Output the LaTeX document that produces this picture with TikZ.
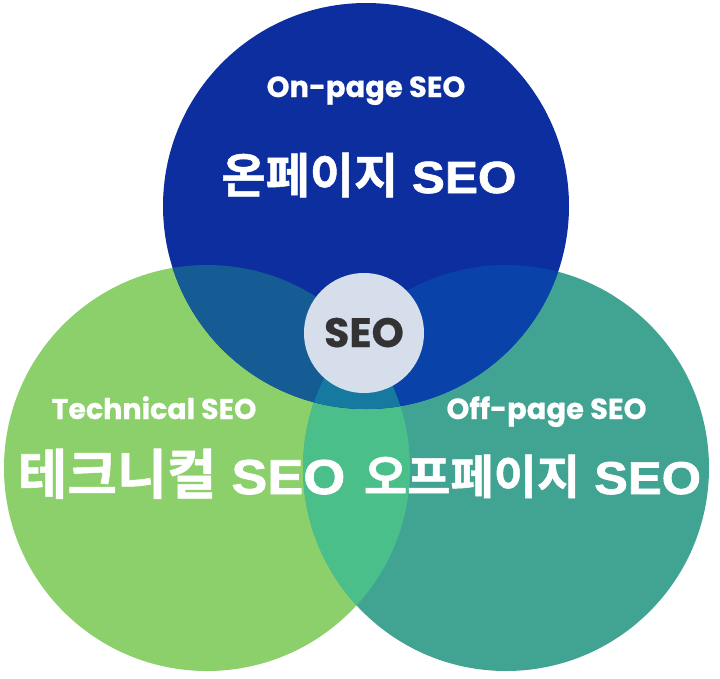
\documentclass[tikz,border=0pt]{standalone}
\usepackage{fontspec}
\newfontfamily\popfont{Poppins}[FakeBold=0.6]
\newfontfamily\krfont{Noto Sans CJK KR Bold}[FakeBold=1]
\newfontfamily\lsfont{Liberation Sans Bold}[FakeStretch=1.1,FakeBold=1.5]
\definecolor{cTop}{HTML}{0D2E9E}
\definecolor{cLeft}{HTML}{8CD06B}
\definecolor{cRight}{HTML}{41A493}
\definecolor{cTL}{HTML}{155C94}
\definecolor{cTR}{HTML}{0942A8}
\definecolor{cLR}{HTML}{4BBF8A}
\definecolor{cAll}{HTML}{1579A0}
\definecolor{cCenter}{HTML}{D6DEEC}
\definecolor{cDark}{HTML}{333333}
\newcommand{\hg}[2]{{\krfont\fontsize{#1}{#1}\selectfont #2}}
\newcommand{\lt}[2]{{\lsfont\fontsize{#1}{#1}\selectfont #2}}
\tikzset{
  entxt/.style={text=white, font=\popfont\bfseries\fontsize{29}{32}\selectfont, inner sep=0pt, anchor=base},
  krtxt/.style={text=white, inner sep=0pt, anchor=base},
  hubtxt/.style={text=cDark, font=\popfont\bfseries\fontsize{41}{44}\selectfont, inner sep=0pt, anchor=base}
}
\begin{document}
\begin{tikzpicture}[x=1pt,y=-1pt]
\useasboundingbox (0,0) rectangle (720,678);
\def\R{203pt}
% base circles
\fill[cLeft] (207,468) circle (\R);
\fill[cRight] (506,468) circle (\R);
\fill[cTop] (366,206) circle (\R);
% pairwise overlaps
\begin{scope}
  \clip (207,468) circle (\R);
  \fill[cLR] (506,468) circle (\R);
  \fill[cTL] (366,206) circle (\R);
\end{scope}
\begin{scope}
  \clip (506,468) circle (\R);
  \fill[cTR] (366,206) circle (\R);
\end{scope}
\begin{scope}
  \clip (207,468) circle (\R);
  \clip (506,468) circle (\R);
  \fill[cAll] (366,206) circle (\R);
\end{scope}
% hub
\node[circle, fill=cCenter, minimum size=120pt, inner sep=0pt] (hub) at (364,333) {};
\node[hubtxt] (hubl) at (364,347) {SEO};
% labels
\node[entxt] (onen) at (366,97) {On-page SEO};
\node[krtxt] (onkr) at (369,193) {\hg{48}{온페이지}\lt{45}{ SEO}};
\node[entxt, font=\popfont\bfseries\fontsize{28.5}{32}\selectfont] (techen) at (154,419) {Technical SEO};
\node[krtxt] (techkr) at (181.5,494) {\hg{54}{테크니컬}\lt{49}{ SEO}};
\node[entxt] (offen) at (546.5,419) {Off-page SEO};
\node[krtxt] (offkr) at (532.5,494) {\hg{47}{오프페이지}\lt{46}{ SEO}};
\end{tikzpicture}
\end{document}
